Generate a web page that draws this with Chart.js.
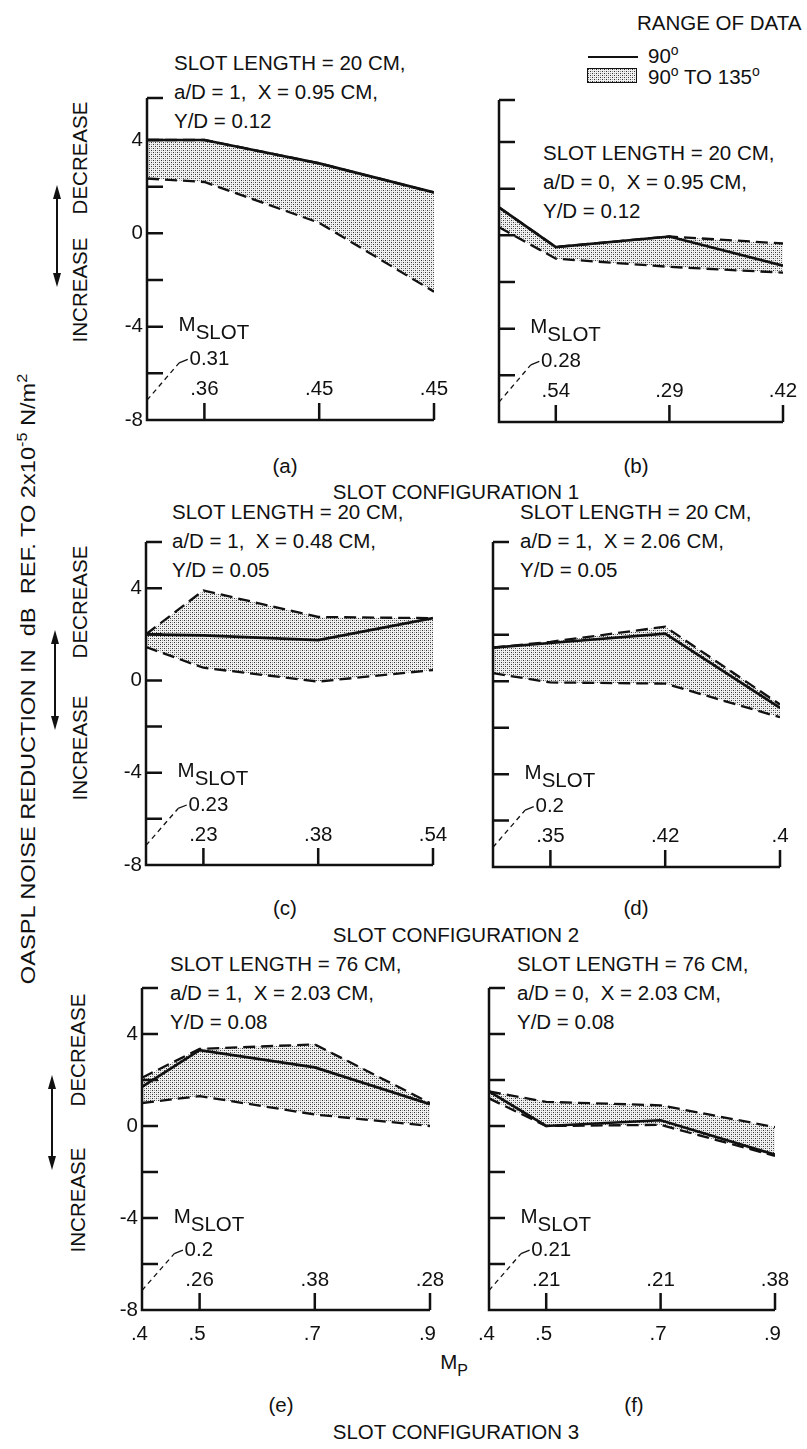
<!DOCTYPE html>
<html>
<head>
<meta charset="utf-8">
<script src="https://cdn.jsdelivr.net/npm/chart.js@4.4.0/dist/chart.umd.min.js"></script>
<style>
  body { margin: 0; background: #fff; }
  #page { position: relative; width: 807px; height: 1449px; overflow: hidden;
          font-family: "Liberation Sans", Arial, sans-serif; color: #111; }
  .t { position: absolute; font-size: 20.5px; white-space: nowrap; line-height: 29px; }
  .c { position: absolute; font-size: 20.5px; white-space: nowrap; transform: translate(-50%, -50%); }
  .r { position: absolute; font-size: 20.5px; white-space: nowrap; transform: translate(-50%, -50%) rotate(-90deg); }
  sup { font-size: 14px; vertical-align: 8px; line-height: 0; }
  canvas { position: absolute; }
</style>
</head>
<body>
<div id="page">
  <!-- legend -->
  <div class="t" style="left:637px; top:8px;">RANGE OF DATA</div>
  <div style="position:absolute; left:588px; top:56px; width:50px; height:0; border-top:2px solid #111;"></div>
  <div class="t" style="left:648px; top:41px;">90<sup>o</sup></div>
  <div id="legendBox" style="position:absolute; left:587px; top:68px; width:48px; height:13px; border:1.5px solid #111;"></div>
  <div class="t" style="left:648px; top:62px;">90<sup>o</sup> TO 135<sup>o</sup></div>

  <!-- panel notes -->
  <div class="t" style="left:174px; top:48px;">SLOT LENGTH = 20 CM,<br>a/D = 1,&nbsp; X = 0.95 CM,<br>Y/D = 0.12</div>
  <div class="t" style="left:543px; top:138px;">SLOT LENGTH = 20 CM,<br>a/D = 0,&nbsp; X = 0.95 CM,<br>Y/D = 0.12</div>
  <div class="t" style="left:172px; top:497px;">SLOT LENGTH = 20 CM,<br>a/D = 1,&nbsp; X = 0.48 CM,<br>Y/D = 0.05</div>
  <div class="t" style="left:520px; top:497px;">SLOT LENGTH = 20 CM,<br>a/D = 1,&nbsp; X = 2.06 CM,<br>Y/D = 0.05</div>
  <div class="t" style="left:170px; top:949px;">SLOT LENGTH = 76 CM,<br>a/D = 1,&nbsp; X = 2.03 CM,<br>Y/D = 0.08</div>
  <div class="t" style="left:517px; top:949px;">SLOT LENGTH = 76 CM,<br>a/D = 0,&nbsp; X = 2.03 CM,<br>Y/D = 0.08</div>

  <!-- captions -->
  <div class="c" style="left:285px; top:466px;">(a)</div>
  <div class="c" style="left:636px; top:466px;">(b)</div>
  <div class="c" style="left:456px; top:492px;">SLOT CONFIGURATION 1</div>
  <div class="c" style="left:285px; top:908px;">(c)</div>
  <div class="c" style="left:636px; top:908px;">(d)</div>
  <div class="c" style="left:456px; top:935px;">SLOT CONFIGURATION 2</div>
  <div class="c" style="left:454px; top:1362px;">M<span style="font-size:16px; position:relative; top:7px;">P</span></div>
  <div class="c" style="left:281px; top:1405px;">(e)</div>
  <div class="c" style="left:634px; top:1405px;">(f)</div>
  <div class="c" style="left:456px; top:1432px;">SLOT CONFIGURATION 3</div>

  <!-- y axis title and direction labels -->
  <div class="r" id="ytitle" style="left:28px; top:679px;">OASPL NOISE REDUCTION IN&nbsp; dB&nbsp; REF. TO 2x10<sup>-5</sup> N/m<sup>2</sup></div>
  <div class="r" style="left:80px; top:158px;">DECREASE</div>
  <div class="r" style="left:80px; top:290px;">INCREASE</div>
  <div class="r" style="left:80px; top:602px;">DECREASE</div>
  <div class="r" style="left:80px; top:748px;">INCREASE</div>
  <div class="r" style="left:78px; top:1050px;">DECREASE</div>
  <div class="r" style="left:78px; top:1200px;">INCREASE</div>
  <svg width="807" height="1449" style="position:absolute; left:0; top:0;">
    <g stroke="#111" stroke-width="2" fill="#111">
      <line x1="57" y1="196" x2="57" y2="276"/>
      <polygon points="57,185 53,199 61,199" stroke="none"/>
      <polygon points="57,287 53,273 61,273" stroke="none"/>
      <line x1="55" y1="641" x2="55" y2="719"/>
      <polygon points="55,630 51,644 59,644" stroke="none"/>
      <polygon points="55,730 51,716 59,716" stroke="none"/>
      <line x1="52" y1="1086" x2="52" y2="1159"/>
      <polygon points="52,1075 48,1089 56,1089" stroke="none"/>
      <polygon points="52,1170 48,1156 56,1156" stroke="none"/>
    </g>
  </svg>
</div>

<script>
// Mach number of the primary jet, M_P
var mp = [0.4, 0.5, 0.7, 0.9];
var yTicks = [-8, -6, -4, -2, 0, 2, 4];
var yLabels = [-8, -4, 0, 4];
var xLabels = [".4", ".5", ".7", ".9"];

// (a) slot configuration 1, a/D = 1
var aSolid = [4.0, 4.0, 3.0, 1.75];
var aUpper = [4.0, 4.0, 3.0, 1.75];
var aLower = [2.35, 2.2, 0.45, -2.5];
var aSlot0 = "0.31";
var aSlot = [".36", ".45", ".45"];

// (b) slot configuration 1, a/D = 0
var bSolid = [1.2, -0.5, -0.05, -1.3];
var bUpper = [1.2, -0.5, -0.05, -0.35];
var bLower = [0.35, -1.0, -1.35, -1.6];
var bSlot0 = "0.28";
var bSlot = [".54", ".29", ".42"];

// (c) slot configuration 2, X = 0.48
var cSolid = [2.0, 1.95, 1.75, 2.7];
var cUpper = [2.0, 3.9, 2.75, 2.7];
var cLower = [1.45, 0.55, -0.05, 0.45];
var cSlot0 = "0.23";
var cSlot = [".23", ".38", ".54"];

// (d) slot configuration 2, X = 2.06
var dSolid = [1.45, 1.65, 2.05, -1.15];
var dUpper = [1.45, 1.7, 2.35, -1.0];
var dLower = [0.35, -0.05, -0.1, -1.55];
var dSlot0 = "0.2";
var dSlot = [".35", ".42", ".4"];

// (e) slot configuration 3, a/D = 1
var eSolid = [1.7, 3.3, 2.55, 0.95];
var eUpper = [2.1, 3.35, 3.55, 1.0];
var eLower = [1.0, 1.3, 0.5, 0.0];
var eSlot0 = "0.2";
var eSlot = [".26", ".38", ".28"];

// (f) slot configuration 3, a/D = 0
var fSolid = [1.5, 0.0, 0.25, -1.25];
var fUpper = [1.5, 1.05, 0.9, -0.05];
var fLower = [1.2, 0.0, 0.05, -1.3];
var fSlot0 = "0.21";
var fSlot = [".21", ".21", ".38"];

var FONT = '20.5px "Liberation Sans", Arial, sans-serif';
var PAD = {left: 40, right: 20, top: 20, bottom: 45};

// stippled fill like the printed shading
var tile = document.createElement("canvas");
tile.width = 4; tile.height = 4;
var tg = tile.getContext("2d");
tg.fillStyle = "#f1f1f1";
tg.fillRect(0, 0, 4, 4);
tg.fillStyle = "#333";
tg.fillRect(0, 0, 1, 1);
tg.fillRect(2, 2, 1, 1);
tg.fillStyle = "#999";
tg.fillRect(2, 0, 1, 1);
tg.fillRect(0, 2, 1, 1);
var stipple = tg.createPattern(tile, "repeat");
document.getElementById("legendBox").style.background = "url(" + tile.toDataURL() + ")";

function pts(vals) {
    return vals.map(function (v, i) { return {x: mp[i], y: v}; });
}

function framePlugin(p) {
    return {
        id: "frame",
        afterDatasetsDraw: function (chart) {
            var ctx = chart.ctx, x = chart.scales.x, y = chart.scales.y;
            var x0 = x.getPixelForValue(0.4), x1 = x.getPixelForValue(0.9);
            var yb = y.getPixelForValue(-8), yt = y.getPixelForValue(p.yMax);
            ctx.save();
            ctx.strokeStyle = "#111";
            ctx.fillStyle = "#111";
            ctx.lineWidth = 2.5;
            ctx.beginPath();
            ctx.moveTo(x0, yt);
            ctx.lineTo(x0, yb);
            ctx.lineTo(x1, yb);
            yTicks.concat([p.yMax]).forEach(function (v) {
                var py = y.getPixelForValue(v);
                ctx.moveTo(x0, py);
                ctx.lineTo(x0 + 16, py);
            });
            mp.slice(1).forEach(function (v) {
                var px = x.getPixelForValue(v);
                ctx.moveTo(px, yb);
                ctx.lineTo(px, yb - 17);
            });
            ctx.stroke();

            ctx.font = FONT;
            ctx.textBaseline = "middle";
            if (p.showY) {
                ctx.textAlign = "right";
                yLabels.forEach(function (v) {
                    ctx.fillText(String(v), x0 - 4, y.getPixelForValue(v));
                });
            }
            if (p.showX) {
                ctx.textAlign = "right";
                mp.forEach(function (v, i) {
                    ctx.fillText(xLabels[i], x.getPixelForValue(v) + 6, yb + 24);
                });
            }

            // M_SLOT note with its leader
            ctx.textAlign = "left";
            var mx = x.getPixelForValue(0.455), my = y.getPixelForValue(-3.95);
            ctx.fillText("M", mx, my);
            ctx.fillText("SLOT", mx + ctx.measureText("M").width, my + 8);
            var lx = x.getPixelForValue(0.456), ly = y.getPixelForValue(-5.55);
            ctx.lineWidth = 1.3;
            ctx.setLineDash([5, 4]);
            ctx.beginPath();
            ctx.moveTo(x0, y.getPixelForValue(-7.15));
            ctx.lineTo(lx, ly);
            ctx.stroke();
            ctx.setLineDash([]);
            ctx.beginPath();
            ctx.moveTo(lx, ly);
            ctx.lineTo(x.getPixelForValue(0.471), y.getPixelForValue(-5.4));
            ctx.stroke();
            ctx.fillText(p.slot0, x.getPixelForValue(0.474), y.getPixelForValue(-5.4));
            ctx.textAlign = "center";
            p.slot.forEach(function (s, i) {
                ctx.fillText(s, x.getPixelForValue(mp[i + 1]), y.getPixelForValue(-6.7));
            });
            ctx.restore();
        }
    };
}

function makePanel(p) {
    var w = p.box[1] - p.box[0] + PAD.left + PAD.right;
    var h = p.box[3] - p.box[2] + PAD.top + PAD.bottom;
    var cv = document.createElement("canvas");
    cv.width = w; cv.height = h;
    cv.style.left = (p.box[0] - PAD.left) + "px";
    cv.style.top = (p.box[2] - PAD.top) + "px";
    cv.style.width = w + "px";
    cv.style.height = h + "px";
    document.getElementById("page").appendChild(cv);

    new Chart(cv, {
        type: "line",
        data: {
            datasets: [
                {label: "90 to 135 upper", data: pts(p.upper), borderColor: "#111", borderWidth: 2.3,
                 borderDash: [12, 6], fill: "+1", backgroundColor: stipple, pointRadius: 0, order: 1},
                {label: "90 to 135 lower", data: pts(p.lower), borderColor: "#111", borderWidth: 2.3,
                 borderDash: [12, 6], fill: false, pointRadius: 0, order: 2},
                {label: "90", data: pts(p.solid), borderColor: "#111", borderWidth: 2.7,
                 fill: false, pointRadius: 0, order: 0}
            ]
        },
        options: {
            responsive: false,
            animation: false,
            layout: {padding: PAD},
            plugins: {
                legend: {display: false},
                tooltip: {enabled: false},
                filler: {drawTime: "beforeDatasetsDraw"}
            },
            scales: {
                x: {type: "linear", min: 0.4, max: 0.9, display: false},
                y: {min: -8, max: p.yMax, display: false}
            }
        },
        plugins: [framePlugin(p)]
    });
}

var panels = [
    {box: [147, 434, 98, 420], yMax: 5.8, solid: aSolid, upper: aUpper, lower: aLower, slot0: aSlot0, slot: aSlot, showY: true, showX: false},
    {box: [499, 783, 100, 422], yMax: 5.8, solid: bSolid, upper: bUpper, lower: bLower, slot0: bSlot0, slot: bSlot, showY: false, showX: false},
    {box: [146, 433, 542, 865], yMax: 6, solid: cSolid, upper: cUpper, lower: cLower, slot0: cSlot0, slot: cSlot, showY: true, showX: false},
    {box: [493, 780, 542, 867], yMax: 6, solid: dSolid, upper: dUpper, lower: dLower, slot0: dSlot0, slot: dSlot, showY: false, showX: false},
    {box: [142, 430, 988, 1310], yMax: 6, solid: eSolid, upper: eUpper, lower: eLower, slot0: eSlot0, slot: eSlot, showY: true, showX: true},
    {box: [489, 775, 988, 1310], yMax: 6, solid: fSolid, upper: fUpper, lower: fLower, slot0: fSlot0, slot: fSlot, showY: false, showX: true}
];
panels.forEach(makePanel);

// stretch the long axis title to the length it has in the figure
var yt = document.getElementById("ytitle");
var k = 610 / yt.offsetWidth;
yt.style.transform = "translate(-50%, -50%) rotate(-90deg) scaleX(" + k.toFixed(3) + ")";
</script>
</body>
</html>
